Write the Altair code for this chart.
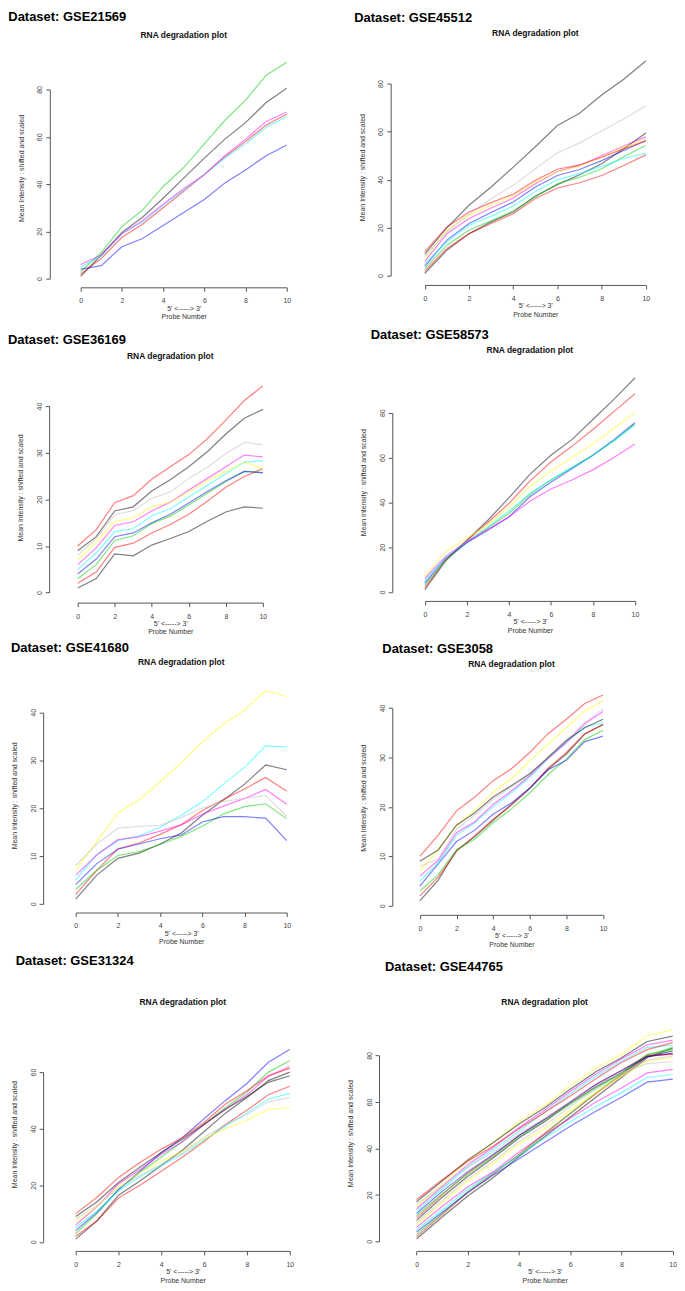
import altair as alt
import pandas as pd

# ---------------- data ----------------
PROBES = [0, 1, 2, 3, 4, 5, 6, 7, 8, 9, 10]
X_TICKS = [0, 2, 4, 6, 8, 10]

GSE21569 = [
    [1, 10, 19.5, 26, 34, 42.5, 51, 59, 66, 74.5, 80.5],
    [2, 8.5, 17.5, 23, 30, 37, 44, 51.5, 58, 65, 69.5],
    [3, 11, 22, 29, 39, 47, 57, 67, 75.5, 86, 91.5],
    [4, 5.5, 13.5, 17, 22.5, 28, 33.5, 40.5, 46, 52, 56.5],
    [5, 9.5, 19, 24, 31, 37.5, 44, 51, 57, 64, 68.5],
    [6, 10, 19, 24.5, 31.5, 38, 44, 52, 59, 66.5, 70.5],
]
GSE45512 = [
    [1, 10.6, 17.5, 22.4, 26.5, 33.2, 37.9, 42, 46.6, 52.8, 59.4],
    [2, 11.3, 17.5, 21.7, 25.8, 32.1, 36.5, 38.7, 41.7, 45.9, 50.3],
    [3, 12.7, 19, 22.8, 27, 32.8, 38.3, 41, 44.5, 49.5, 54.3],
    [4, 14.8, 21.7, 26.3, 30.7, 36.9, 41.7, 44.2, 47.9, 52.1, 56.2],
    [5, 14.1, 21, 24.8, 29, 35, 40, 42.5, 45.5, 48.8, 51],
    [6, 17.5, 23.8, 28.2, 32.3, 38.3, 43.4, 45.9, 49.9, 54, 57.8],
    [7, 18.9, 25.1, 29.3, 33.2, 39, 43.2, 45.6, 49.3, 53.5, 56.8],
    [8, 18.2, 25.8, 32, 37.6, 44.5, 51.2, 55.3, 60.2, 65.2, 70.7],
    [9, 20, 29.3, 36.9, 45.2, 53.7, 62.5, 67.6, 75.2, 81.8, 89.4],
    [10, 20.3, 26.5, 30.4, 33.9, 39.7, 44.3, 46.1, 49.3, 52.8, 56.2],
]
GSE36169 = [
    [1, 3, 8.3, 7.9, 10.2, 11.6, 13.1, 15.3, 17.3, 18.4, 18.1],
    [2, 4.4, 9.7, 10.6, 12.8, 14.6, 16.8, 19.6, 22.6, 24.9, 26.6],
    [3, 6, 11.2, 12.2, 14.8, 16.4, 18.8, 21.3, 23.8, 26, 25.8],
    [4, 7.2, 12, 12.8, 15, 16.8, 19.2, 21.7, 24, 26, 25.7],
    [5, 8.5, 13.1, 13.7, 16.5, 18, 20.5, 23, 25.5, 28, 28.3],
    [6, 9.6, 14.4, 15.2, 17.5, 19.4, 22, 24.5, 27, 29.5, 29.1],
    [7, 10.8, 15.3, 16, 18.4, 19.4, 21.6, 24, 26, 28, 26.6],
    [8, 11.6, 16.7, 17.6, 20.2, 21.6, 24.5, 26.9, 29.8, 32.2, 31.7],
    [9, 12, 17.5, 18.4, 21.8, 24.2, 27, 30.2, 34, 37.4, 39.3],
    [10, 13.5, 19.3, 20.8, 24.3, 27, 29.6, 33, 37, 41.2, 44.3],
]
GSE58573 = [
    [1, 14, 23, 32, 42, 52.5, 61, 68, 77, 86, 95.5],
    [2, 14.5, 23, 31, 39.5, 49.5, 58, 65, 72.5, 80.5, 88.5],
    [3, 14, 22, 28.5, 35, 43.5, 50, 55.5, 61, 67.5, 75],
    [4, 15, 22, 27.5, 33.5, 42.5, 49, 55, 61, 68, 75.5],
    [5, 15.5, 22.5, 29, 36, 44, 50, 55.5, 61, 67.5, 74.5],
    [6, 16, 22.5, 28, 33.5, 40.5, 46, 50, 54.5, 60, 66],
    [7, 18, 24, 30, 38, 47, 54, 60, 66, 73, 80],
]
GSE41680 = [
    [1, 6, 9.5, 10.6, 12.5, 14.8, 18.5, 21.7, 25, 29, 28],
    [2, 7, 11.5, 12.7, 14.5, 16.5, 19.5, 21.8, 24, 26.4, 23.5],
    [3, 7, 10.1, 10.9, 12.4, 14.1, 16.2, 18.8, 20.3, 20.9, 17.8],
    [4, 8.4, 11.4, 12.5, 13.6, 14.4, 17.1, 18.2, 18.2, 17.9, 13.2],
    [5, 10.3, 13.2, 14.2, 16, 18.5, 21.3, 25, 28.5, 33, 32.8],
    [6, 10.2, 13.4, 14, 15.2, 16.5, 18.7, 20.4, 22, 23.9, 20.8],
    [7, 13, 19, 21.7, 25.5, 29.5, 33.8, 37.5, 40.5, 44.5, 43.3],
    [8, 12.5, 15.8, 16.2, 16.4, 18, 20, 21.4, 22, 22.6, 18.3],
]
GSE3058 = [
    [1, 5.2, 11.2, 14, 17.3, 20.5, 23.7, 27.6, 30.7, 34.7, 36.7],
    [2, 5.8, 11, 14.2, 17.5, 20.3, 23.8, 27.8, 31, 34.8, 36.6],
    [3, 6.3, 11.3, 13.5, 16.8, 19.6, 22.8, 26.5, 29.7, 33.6, 35.5],
    [4, 8.5, 13, 15.3, 18.5, 20.8, 23.8, 27.5, 29.4, 33.2, 34.3],
    [5, 8.7, 14.3, 16.8, 20, 22.8, 26, 29.7, 33, 36.2, 37],
    [6, 9.2, 14.8, 17, 20.5, 23.2, 26.3, 29.8, 33, 36.8, 39.3],
    [7, 11.3, 16.3, 19.3, 23, 25.7, 29.3, 32.7, 36, 39.4, 41.4],
    [8, 9.5, 15.5, 18.3, 21.5, 24, 26.5, 30, 33.5, 37, 39.8],
    [9, 11.3, 16.3, 18.8, 22, 24.3, 26.7, 30, 33.4, 36, 37.7],
    [10, 14.3, 19.2, 22, 25.3, 27.7, 31, 34.8, 37.7, 40.9, 42.6],
]
GSE31324 = [
    [1, 7.5, 16.5, 21.5, 27, 32.5, 39, 45.5, 51, 57, 60],
    [2, 7.5, 15.5, 20, 25, 30, 35.5, 41.5, 46.5, 52, 55],
    [3, 10, 18.5, 24.5, 30, 35.5, 41.5, 47.5, 53, 60, 64],
    [4, 10.5, 18.5, 25, 31.5, 37, 43.5, 50, 56, 63.5, 68],
    [5, 11, 18, 23, 27, 31, 36, 41, 45.5, 50.5, 52.5],
    [6, 12.5, 20.5, 25.5, 31, 35.5, 41.5, 47, 52, 58.5, 62],
    [7, 12.5, 19.5, 24.5, 28.5, 32, 36.5, 40, 43, 46.8, 47.5],
    [8, 13, 19, 23.5, 27.5, 31.5, 37, 41.5, 45, 49.5, 51],
    [9, 14.2, 21, 26.4, 31.6, 36.4, 41.6, 46.9, 51.4, 56.4, 58.7],
    [10, 15.8, 22.8, 28.1, 32.8, 36.9, 42.2, 48.7, 53.4, 58.7, 61.3],
]
GSE44765 = [
    [1, 10.5, 19.5, 27.5, 36.5, 45, 53.5, 62, 70.5, 79, 83.2],
    [2, 11.5, 21, 29, 37.5, 46.5, 55, 63.5, 71.5, 79.5, 80.8],
    [3, 12, 21.5, 29.5, 37, 46, 55, 64, 72, 80, 83.5],
    [4, 12.5, 21, 28.5, 35.5, 42.5, 49.5, 56, 62, 68.5, 69.8],
    [5, 13.5, 22.5, 29.5, 37, 44.5, 51.5, 58, 64, 70.5, 71.8],
    [6, 15, 23.5, 30, 38.5, 46, 53, 60, 66, 72.5, 74],
    [7, 16.5, 26, 33.5, 42, 48.5, 56.5, 64, 71, 77.5, 79],
    [8, 17.5, 27, 34.5, 43, 50, 58, 65.5, 72, 78, 79.7],
    [9, 19, 28, 36, 44.5, 51.5, 59.5, 66.5, 72.5, 79.5, 82],
    [10, 20, 29.5, 37, 45.5, 52.5, 60, 67.5, 73.5, 80, 80.4],
    [11, 20.5, 29, 36.5, 45, 52, 59, 66, 72.5, 80.5, 82.6],
    [12, 21.5, 30, 37.5, 45.5, 52.5, 60, 67.5, 73.5, 79.5, 81],
    [13, 22.5, 32, 39.5, 47.5, 55.5, 63.5, 71, 77.5, 83.5, 84.3],
    [14, 23.5, 33, 40.5, 49, 56.5, 64.5, 72, 78.5, 84.5, 86.6],
    [15, 24.5, 34.5, 42.5, 51.5, 58.5, 67, 74.5, 80.5, 88.5, 91],
    [16, 24, 32, 38.5, 46.5, 53, 60, 67, 72.5, 76.5, 77.3],
    [17, 26, 35, 42.5, 50.5, 57.5, 65.5, 73, 79, 86, 88.3],
    [18, 26.5, 34.5, 41, 48.5, 55.5, 62.5, 70, 77, 82.5, 85.5],
]

# R palette 1..8 (drawn half transparent)
PALETTE = ["#000000", "#FF0000", "#00CD00", "#0000FF",
           "#00FFFF", "#FF00FF", "#FFFF00", "#BEBEBE"]

# ---------------- layout (page pixels) ----------------
COL_LEFT = [50.0, 393.3]
COL_WIDTH = [343.3, 283.7]
ROW_TOP = [40.0, 283.3, 600.0, 912.7]
ROW_BOTTOM = [283.3, 600.0, 912.7, 1252.3]

PANELS = [
    dict(name="GSE21569", data=GSE21569, col=0, row=0, axis_x=50.0, axis_bottom=285.7,
         x0=81.0, xpu=20.7, y0=277.0, ypu=2.375, yticks=[0, 20, 40, 60, 80],
         title_x=8.3, title_y=14.0, rna_y=32.7, ytitle_y=165.8),
    dict(name="GSE45512", data=GSE45512, col=1, row=0, axis_x=391.7, axis_bottom=283.3,
         x0=426.0, xpu=22.2, y0=274.0, ypu=2.4125, yticks=[0, 20, 40, 60, 80],
         title_x=355.0, title_y=15.6, rna_y=30.3, ytitle_y=165.0),
    dict(name="GSE36169", data=GSE36169, col=0, row=1, axis_x=49.3, axis_bottom=601.7,
         x0=78.0, xpu=18.6, y0=591.7, ypu=4.685, yticks=[0, 10, 20, 30, 40],
         title_x=8.0, title_y=337.8, rna_y=354.3, ytitle_y=486.0),
    dict(name="GSE58573", data=GSE58573, col=1, row=1, axis_x=393.3, axis_bottom=600.0,
         x0=426.0, xpu=21.1, y0=591.0, ypu=2.25, yticks=[0, 20, 40, 60, 80],
         title_x=371.7, title_y=332.9, rna_y=347.7, ytitle_y=480.8),
    dict(name="GSE41680", data=GSE41680, col=0, row=2, axis_x=43.3, axis_bottom=912.7,
         x0=76.0, xpu=21.2, y0=904.0, ypu=4.81, yticks=[0, 10, 20, 30, 40],
         title_x=11.0, title_y=646.8, rna_y=660.7, ytitle_y=795.0),
    dict(name="GSE3058", data=GSE3058, col=1, row=2, axis_x=393.3, axis_bottom=915.0,
         x0=421.0, xpu=18.4, y0=906.0, ypu=4.97, yticks=[0, 10, 20, 30, 40],
         title_x=383.3, title_y=647.8, rna_y=663.3, ytitle_y=797.5),
    dict(name="GSE31324", data=GSE31324, col=0, row=3, axis_x=43.3, axis_bottom=1252.3,
         x0=76.0, xpu=21.5, y0=1243.3, ypu=2.843, yticks=[0, 20, 40, 60],
         title_x=15.7, title_y=961.6, rna_y=1002.3, ytitle_y=1135.0),
    dict(name="GSE44765", data=GSE44765, col=1, row=3, axis_x=380.0, axis_bottom=1252.3,
         x0=417.7, xpu=25.73, y0=1242.7, ypu=2.334, yticks=[0, 20, 40, 60, 80],
         title_x=386.0, title_y=967.3, rna_y=1002.7, ytitle_y=1134.0),
]

AXIS_COLOR = "#555555"
LABEL_COLOR = "#444444"
FONT = "Liberation Sans"


def panel(p, with_anchor=False):
    xl = COL_LEFT[p["col"]]
    w = COL_WIDTH[p["col"]]
    top = ROW_TOP[p["row"]]
    bottom = ROW_BOTTOM[p["row"]]
    h = bottom - top
    xoff = p["axis_bottom"] - bottom
    yoff = xl - p["axis_x"]
    center_x = p["x0"] + 5 * p["xpu"] - xl

    # Scales span exactly the labelled tick range (as R's axes do); the
    # linear mapping extrapolates for values beyond the last tick.
    x_lo, x_hi = X_TICKS[0], X_TICKS[-1]
    y_lo, y_hi = p["yticks"][0], p["yticks"][-1]
    xscale = alt.Scale(domain=[x_lo, x_hi], nice=False, zero=False,
                       range=[p["x0"] + x_lo * p["xpu"] - xl,
                              p["x0"] + x_hi * p["xpu"] - xl])
    yscale = alt.Scale(domain=[y_lo, y_hi], nice=False, zero=False,
                       range=[p["y0"] - y_lo * p["ypu"] - top,
                              p["y0"] - y_hi * p["ypu"] - top])

    rows = []
    for i, series in enumerate(p["data"]):
        for x, v in zip(PROBES, series):
            rows.append({"probe": x, "value": v, "series": f"s{i + 1:02d}",
                         "color": PALETTE[i % len(PALETTE)]})
    df = pd.DataFrame(rows)

    xaxis = alt.Axis(
        values=X_TICKS, domain=True, domainColor=AXIS_COLOR, domainWidth=1,
        grid=False, offset=xoff,
        tickSize=4, tickColor=AXIS_COLOR, labelPadding=5.5, labelFontSize=7,
        labelColor=LABEL_COLOR, labelFlush=False, labelOverlap=False,
        title=["5' <-----> 3'", "Probe Number"], titleX=center_x, titleY=17,
        titleBaseline="top", titleAlign="center", titleLineHeight=8.5,
        titleFontSize=7, titleFontWeight="normal", titleColor="#333333")
    yaxis = alt.Axis(
        values=p["yticks"], domain=True, domainColor=AXIS_COLOR, domainWidth=1,
        grid=False, offset=yoff,
        tickSize=4, tickColor=AXIS_COLOR, labelPadding=3, labelFontSize=7,
        labelColor=LABEL_COLOR, labelAngle=270, labelAlign="center",
        labelBaseline="bottom", labelFlush=False, labelOverlap=False,
        title="Mean Intensity : shifted and scaled", titleAngle=270,
        titleX=-28.5, titleY=p["ytitle_y"] - top, titleAlign="center",
        titleBaseline="middle", titleFontSize=7, titleFontWeight="normal",
        titleColor="#333333")

    lines = alt.Chart(df).mark_line(strokeWidth=1.2, opacity=0.5, clip=False).encode(
        x=alt.X("probe:Q", scale=xscale, axis=xaxis),
        y=alt.Y("value:Q", scale=yscale, axis=yaxis),
        color=alt.Color("color:N", scale=None),
        detail="series:N",
    )

    title = alt.Chart(pd.DataFrame({"t": ["Dataset: " + p["name"]]})).mark_text(
        align="left", baseline="middle", fontSize=13, fontWeight="bold",
        color="#000000", font=FONT).encode(
        text="t:N", x=alt.value(p["title_x"] - xl), y=alt.value(p["title_y"] - top))
    rna = alt.Chart(pd.DataFrame({"t": ["RNA degradation plot"]})).mark_text(
        align="center", baseline="middle", fontSize=8.5, fontWeight="bold",
        color="#111111", font=FONT).encode(
        text="t:N", x=alt.value(center_x), y=alt.value(p["rna_y"] - top))

    layers = [lines, title, rna]
    if with_anchor:
        anchor = alt.Chart(pd.DataFrame({"t": [0]})).mark_circle(size=0, opacity=0).encode(
            x=alt.value(8 - xl), y=alt.value(8 - top))
        layers.append(anchor)
    return alt.layer(*layers).properties(width=w, height=h)


charts = [panel(p, with_anchor=(k == 0)) for k, p in enumerate(PANELS)]

chart = alt.concat(*charts, columns=2).properties(
    spacing=0, bounds="flush", align="each", padding=0
).configure(font=FONT).configure_view(strokeWidth=0).configure_axis(
    labelFont=FONT, titleFont=FONT
)

chart.save("out.html", embed_options={"renderer": "svg", "actions": False})
